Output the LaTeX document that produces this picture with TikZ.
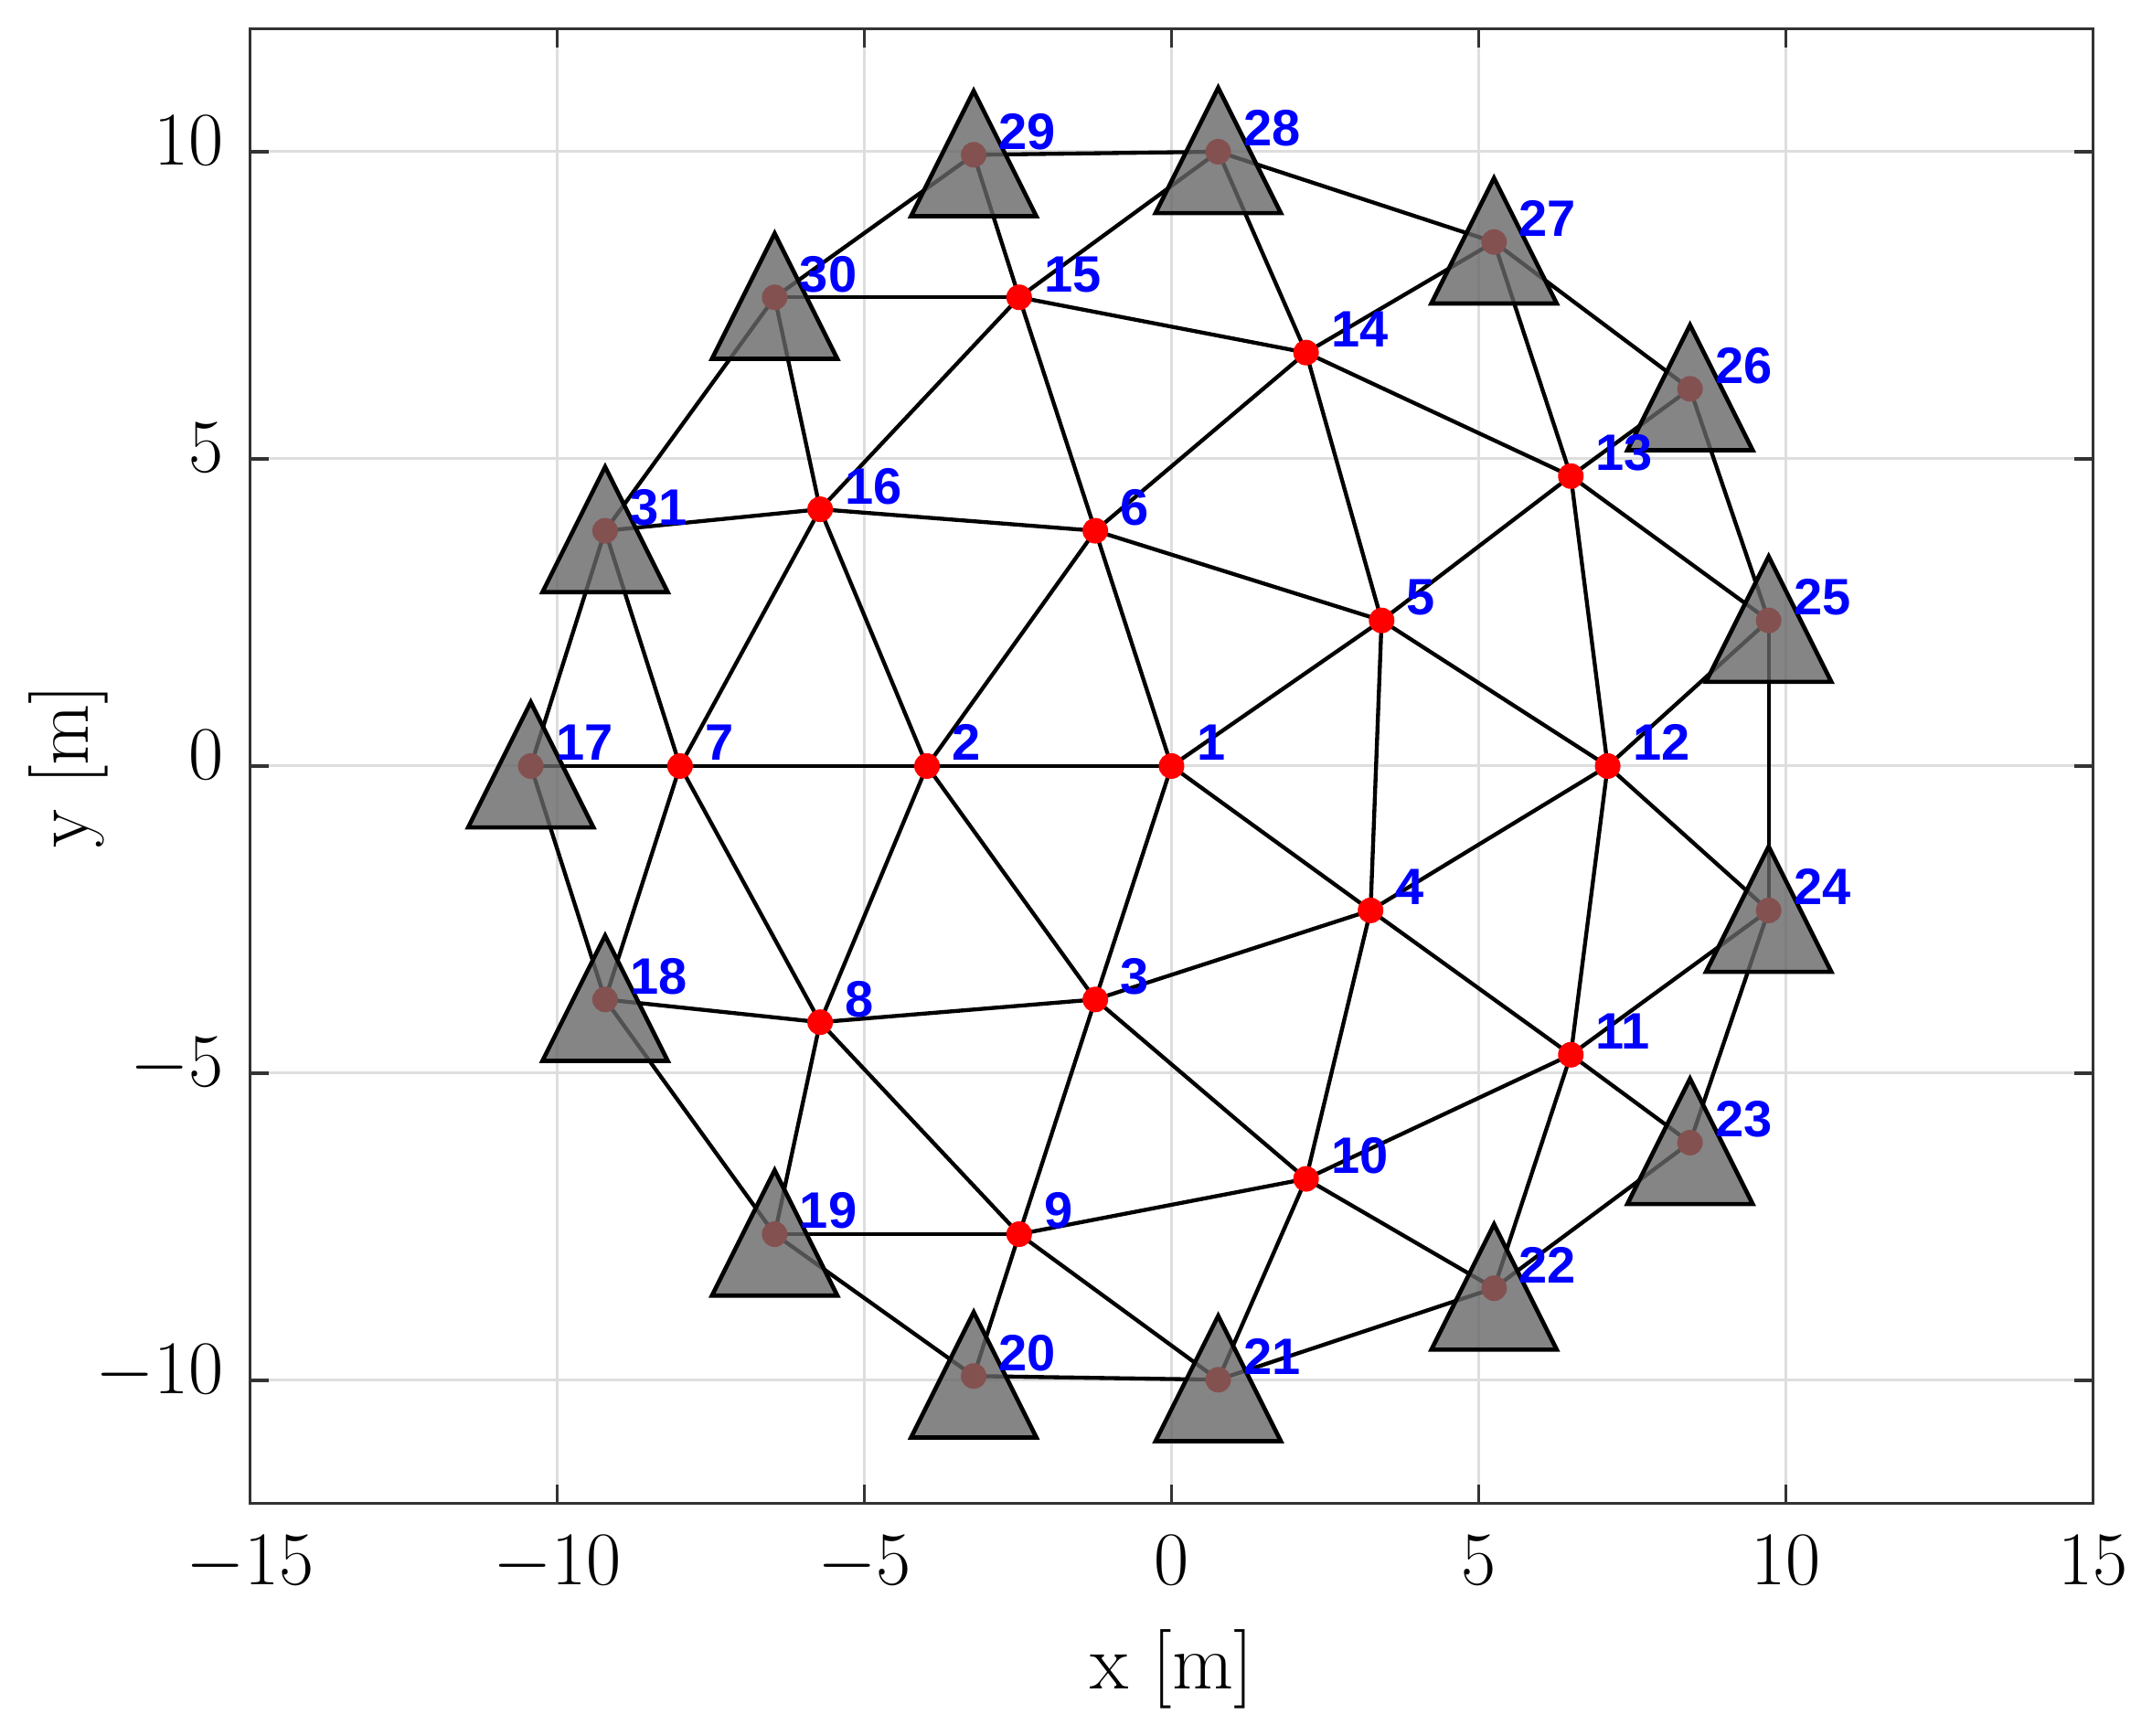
\documentclass[tikz,border=0pt]{standalone}
\usepackage{fontspec}
\newfontfamily\labfont{Liberation Sans}
\definecolor{tri}{HTML}{666666}
\definecolor{gridc}{HTML}{DEDEDE}
\definecolor{axc}{HTML}{333333}
\begin{document}
\begin{tikzpicture}[x=20.16pt,y=20.16pt,
  edge/.style={line width=1.3pt,black},
  dot/.style={circle,fill=red,inner sep=0pt,minimum size=8.4pt},
  anc/.style={fill=tri,fill opacity=0.8,draw=black,line width=1.4pt,line join=miter},
  lab/.style={anchor=base west,text=blue,font=\labfont\bfseries\fontsize{16.8}{18}\selectfont,inner sep=0pt},
  gridline/.style={gridc,line width=0.9pt},
  tick/.style={axc,line width=1pt},
  ticklab/.style={inner sep=0pt,font=\fontsize{24}{26}\selectfont},
  axlab/.style={inner sep=0pt,font=\fontsize{26}{28}\selectfont}]
\useasboundingbox (-19.070,-15.789) rectangle (15.960,12.470);
% grid
\foreach \v in {-10,-5,0,5,10} {
  \draw[gridline] (\v,-12) -- (\v,12);
  \draw[gridline] (-15,\v) -- (15,\v);
}
% points
\foreach \i/\x/\y in {1/0/0, 2/-3.98/0, 3/-1.24/-3.80, 4/3.24/-2.35, 5/3.42/2.37,
  6/-1.24/3.83, 7/-8.0/0, 8/-5.72/-4.17, 9/-2.48/-7.62, 10/2.19/-6.72,
  11/6.50/-4.70, 12/7.10/0, 13/6.50/4.72, 14/2.19/6.73, 15/-2.48/7.63,
  16/-5.72/4.18, 17/-10.43/0, 18/-9.22/-3.80, 19/-6.46/-7.62, 20/-3.22/-9.93,
  21/0.76/-9.99, 22/5.25/-8.50, 23/8.44/-6.13, 24/9.72/-2.35, 25/9.72/2.37,
  26/8.44/6.14, 27/5.25/8.53, 28/0.76/10.0, 29/-3.22/9.95, 30/-6.46/7.63,
  31/-9.22/3.83}
  {\coordinate (p\i) at (\x,\y);}
% edges
\foreach \a/\b in {1/2,1/3,1/4,1/5,1/6,
  2/3,2/6,2/7,2/8,2/16,
  3/4,3/8,3/9,3/10,
  4/5,4/10,4/11,4/12,
  5/6,5/12,5/13,5/14,
  6/14,6/15,6/16,
  7/8,7/16,7/17,7/18,7/31,
  8/9,8/18,8/19,
  9/10,9/19,9/20,9/21,
  10/11,10/21,10/22,
  11/12,11/22,11/23,11/24,
  12/13,12/24,12/25,
  13/14,13/25,13/26,13/27,
  14/15,14/27,14/28,
  15/16,15/28,15/29,15/30,
  16/30,16/31,
  17/18,18/19,19/20,20/21,21/22,22/23,23/24,24/25,25/26,26/27,27/28,28/29,29/30,30/31,31/17}
  {\draw[edge] (p\a) -- (p\b);}
% dots
\foreach \i in {1,...,31} {\node[dot] (d\i) at (p\i) {};}
% anchor triangles
\foreach \i in {17,...,31} {
  \draw[anc] ([shift={(0,1.04)}]p\i) -- ([shift={(1.02,-1.0)}]p\i) -- ([shift={(-1.02,-1.0)}]p\i) -- cycle;
}
% labels
\foreach \i in {1,...,31} {\node[lab] (l\i) at ([shift={(0.4,0.09)}]p\i) {\i};}
% axes box and ticks
\foreach \v in {-15,-10,-5,0,5,10,15} {
  \draw[tick] (\v,-12) -- (\v,-11.7);
  \draw[tick] (\v,12) -- (\v,11.7);
  \node[ticklab,anchor=base] (xt\v) at (\v,-13.32) {$\v$};
}
\foreach \v in {-10,-5,0,5,10} {
  \draw[tick] (-15,\v) -- (-14.7,\v);
  \draw[tick] (15,\v) -- (14.7,\v);
  \node[ticklab,anchor=base east] (yt\v) at (-15.42,{\v-0.22}) {$\v$};
}
\draw[axc,line width=1pt] (-15,-12) rectangle (15,12);
\node[axlab,anchor=base] (xlab) at (0,-15.03) {x [m]};
\node[axlab,anchor=base,rotate=90] (ylab) at (-17.63,0) {y [m]};
\end{tikzpicture}
\end{document}
